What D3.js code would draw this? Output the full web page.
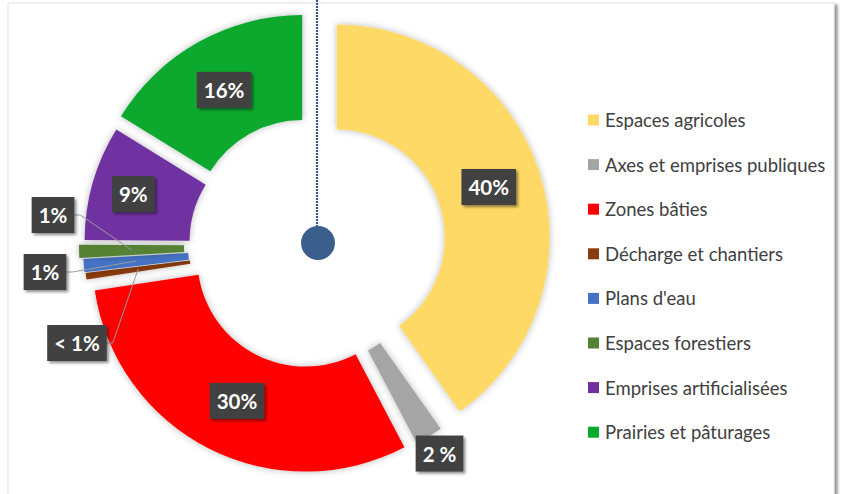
<!DOCTYPE html>
<html>
<head>
<meta charset="utf-8">
<script src="https://cdn.jsdelivr.net/npm/d3@7"></script>
<style>
  html, body { margin: 0; padding: 0; background: #ffffff; }
  svg { display: block; }
</style>
</head>
<body>
<svg id="chart" width="845" height="494"></svg>
<script>
// Land use shares (%), in drawing order starting at 12 o'clock, clockwise
const categories = [
  "Espaces agricoles",
  "Axes et emprises publiques",
  "Zones bâties",
  "Décharge et chantiers",
  "Plans d'eau",
  "Espaces forestiers",
  "Emprises artificialisées",
  "Prairies et pâturages"
];
const shares = [40.2, 2.1, 30.3, 0.5, 1.0, 1.0, 8.7, 16.2];
const valueLabels = ["40%", "2 %", "30%", "< 1%", "1%", "1%", "9%", "16%"];
const colors = ["#FFD966", "#A5A5A5", "#FF0000", "#8A3B0F", "#4472C4", "#548235", "#7030A0", "#07A92F"];

// Layout / style settings
const W = 845, H = 494;
const center = { x: 312, y: 245.5 };
const outerR = 213, innerR = 108;
const explode = [26, 11, 14.7, 15, 16, 20, 15, 20];     // per-slice pull-out distance
// label placement: "in" = slice centroid (+ nudge), "out" = beyond the rim, "side" = left column with leader
const labelMode  = ["in", "out", "in", "side", "side", "side", "in", "in"];
const labelNudge = [[-1, -2], [0, 0], [4, -1], [0, 0], [0, 0], [0, 0], [-10, -3], [0, 2]];
const sideLabelPos = { 3: [77, 343], 4: [45, 272], 5: [53, 215] };

const svg = d3.select("#chart");
const defs = svg.append("defs");

// soft glow shadow under the slices
const sh = defs.append("filter").attr("id", "sliceShadow")
  .attr("x", "-20%").attr("y", "-20%").attr("width", "140%").attr("height", "140%");
sh.append("feDropShadow").attr("dx", 0).attr("dy", 0).attr("stdDeviation", 3.5)
  .attr("flood-color", "#000").attr("flood-opacity", 0.28);

// shadow for label boxes
const lb = defs.append("filter").attr("id", "boxShadow")
  .attr("x", "-30%").attr("y", "-30%").attr("width", "160%").attr("height", "160%");
lb.append("feDropShadow").attr("dx", 2).attr("dy", 2).attr("stdDeviation", 1.5)
  .attr("flood-color", "#000").attr("flood-opacity", 0.45);

// frame shadow
const fr = defs.append("filter").attr("id", "frameShadow")
  .attr("x", "-5%").attr("y", "-5%").attr("width", "110%").attr("height", "110%");
fr.append("feDropShadow").attr("dx", 3).attr("dy", 2).attr("stdDeviation", 1.6)
  .attr("flood-color", "#000").attr("flood-opacity", 0.45);

// fine checker texture of the label boxes
const pat = defs.append("pattern").attr("id", "boxTexture")
  .attr("width", 2).attr("height", 2).attr("patternUnits", "userSpaceOnUse");
pat.append("rect").attr("width", 2).attr("height", 2).attr("fill", "#3a3a3a");
pat.append("rect").attr("width", 1).attr("height", 1).attr("fill", "#474747");
pat.append("rect").attr("x", 1).attr("y", 1).attr("width", 1).attr("height", 1).attr("fill", "#474747");

// card frame
svg.append("rect")
  .attr("x", 8).attr("y", 3).attr("width", 826).attr("height", 520)
  .attr("fill", "#ffffff").attr("stroke", "#e4e4e4").attr("stroke-width", 1)
  .attr("filter", "url(#frameShadow)");

// pie layout
const pie = d3.pie().value(d => d).sort(null);
const arcs = pie(shares);
const arcGen = d3.arc().innerRadius(innerR).outerRadius(outerR);

function offsetOf(a, i) {
  const mid = (a.startAngle + a.endAngle) / 2;
  return [Math.sin(mid) * explode[i], -Math.cos(mid) * explode[i]];
}

const gPie = svg.append("g").attr("transform", `translate(${center.x},${center.y})`);

gPie.selectAll("path.slice")
  .data(arcs)
  .join("path")
  .attr("class", "slice")
  .attr("d", arcGen)
  .attr("fill", (d, i) => colors[i])
  .attr("filter", "url(#sliceShadow)")
  .attr("transform", (d, i) => { const o = offsetOf(d, i); return `translate(${o[0]},${o[1]})`; });

// pointer: dotted line and marker dot
const dotCenter = { x: center.x + 6, y: center.y - 2.5 };
svg.append("line")
  .attr("x1", dotCenter.x - 1).attr("x2", dotCenter.x - 1)
  .attr("y1", 0).attr("y2", dotCenter.y - 16)
  .attr("stroke", "#335C8E").attr("stroke-width", 2.2)
  .attr("stroke-dasharray", "2 1");
svg.append("circle")
  .attr("cx", dotCenter.x).attr("cy", dotCenter.y).attr("r", 17)
  .attr("fill", "#3A5F8D");

// data labels
const labelFont = "Lato, 'Open Sans', sans-serif";
const gLab = svg.append("g");

arcs.forEach((a, i) => {
  const o = offsetOf(a, i);
  const mid = (a.startAngle + a.endAngle) / 2;
  let lx, ly;
  if (labelMode[i] === "in") {
    const c = arcGen.centroid(a);
    lx = center.x + o[0] + c[0] + labelNudge[i][0];
    ly = center.y + o[1] + c[1] + labelNudge[i][1];
  } else if (labelMode[i] === "out") {
    const rr = outerR + 20;
    lx = center.x + o[0] + Math.sin(mid) * rr;
    ly = center.y + o[1] - Math.cos(mid) * rr;
  } else {
    lx = sideLabelPos[i][0];
    ly = sideLabelPos[i][1];
  }

  const g = gLab.append("g");
  const txt = g.append("text")
    .attr("x", lx).attr("y", ly)
    .attr("text-anchor", "middle").attr("dominant-baseline", "central")
    .attr("font-family", labelFont).attr("font-weight", 700).attr("font-size", 20.5)
    .attr("fill", "#ffffff")
    .attr("xml:space", "preserve")
    .text(valueLabels[i]);
  const tw = txt.node().getComputedTextLength();
  const bw = tw + 14, bh = 36;
  g.insert("rect", "text")
    .attr("x", lx - bw / 2).attr("y", ly - bh / 2)
    .attr("width", bw).attr("height", bh)
    .attr("fill", "url(#boxTexture)")
    .attr("filter", "url(#boxShadow)");

  if (labelMode[i] === "side") {
    const c = arcGen.centroid(a);
    const px = center.x + o[0] + c[0], py = center.y + o[1] + c[1];
    const sx = lx + bw / 2;
    gLab.insert("polyline", ":first-child")
      .attr("points", `${sx},${ly} ${sx + 6},${ly} ${px},${py}`)
      .attr("fill", "none").attr("stroke", "#9a9a9a").attr("stroke-width", 1);
  }
});

// legend
const legendX = 588, legendY0 = 120, legendStep = 44.6;
const gLeg = svg.append("g");
categories.forEach((name, i) => {
  const y = legendY0 + i * legendStep;
  gLeg.append("rect")
    .attr("x", legendX).attr("y", y - 5.5).attr("width", 11).attr("height", 11)
    .attr("fill", colors[i]);
  gLeg.append("text")
    .attr("x", legendX + 17).attr("y", y)
    .attr("dominant-baseline", "central")
    .attr("font-family", labelFont).attr("font-size", 18.5)
    .attr("fill", "#404040")
    .text(name);
});
</script>
</body>
</html>
